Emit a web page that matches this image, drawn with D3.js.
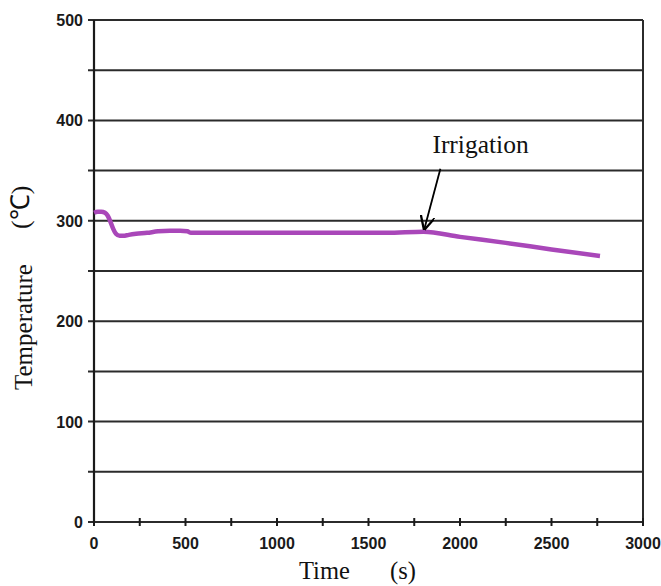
<!DOCTYPE html>
<html>
<head>
<meta charset="utf-8">
<script src="https://cdn.jsdelivr.net/npm/d3@7/dist/d3.min.js"></script>
<style>
  html, body { margin: 0; padding: 0; background: #fff; }
  svg { display: block; }
</style>
</head>
<body>
<script>
// Temperature record over time (s, °C)
const timeSec = [0, 20, 40, 60, 75, 90, 105, 120, 140, 160, 190, 230, 290, 350, 415, 470, 510, 530, 600, 800, 1000, 1200, 1400, 1600, 1800, 2000, 2250, 2500, 2765];
const tempC   = [308, 309, 309, 308, 305, 299, 292, 287, 285, 285, 286, 287, 288, 289.5, 290, 290, 289.5, 288, 288, 288, 288, 288, 288, 288, 289, 284, 278, 271.5, 265];

const xTicks = [0, 500, 1000, 1500, 2000, 2500, 3000];
const xMinorTicks = d3.range(0, 3001, 250);
const yTicks = [0, 100, 200, 300, 400, 500];
const yGrid = d3.range(0, 501, 50);

const annotationText = "Irrigation";
const annotationTime = 1800;
const annotationTemp = 289;

const W = 661, H = 586;
const margin = { left: 94, right: 18, top: 20, bottom: 64 };

const svg = d3.select("body").append("svg").attr("width", W).attr("height", H);

const x = d3.scaleLinear().domain([0, 3000]).range([margin.left, W - margin.right]);
const y = d3.scaleLinear().domain([0, 500]).range([H - margin.bottom, margin.top]);

const serif = "Liberation Serif, Times New Roman, serif";
const sans = "Liberation Sans, Arial, sans-serif";

// Horizontal gridlines every 50, with a short tick left of the axis
svg.append("g")
  .selectAll("line")
  .data(yGrid)
  .join("line")
  .attr("x1", x(0) - 6)
  .attr("x2", x(3000))
  .attr("y1", d => y(d))
  .attr("y2", d => y(d))
  .attr("stroke", "#2b2b2b")
  .attr("stroke-width", 2);

// Left and right frame lines
svg.append("line")
  .attr("x1", x(0)).attr("x2", x(0))
  .attr("y1", y(500)).attr("y2", y(0))
  .attr("stroke", "#1a1a1a").attr("stroke-width", 2.2);
svg.append("line")
  .attr("x1", x(3000)).attr("x2", x(3000))
  .attr("y1", y(500)).attr("y2", y(0))
  .attr("stroke", "#2b2b2b").attr("stroke-width", 2);

// X axis with minor ticks crossing the axis line
const xAxisG = svg.append("g");
xAxisG.selectAll("line.tick")
  .data(xMinorTicks)
  .join("line")
  .attr("class", "tick")
  .attr("x1", d => x(d)).attr("x2", d => x(d))
  .attr("y1", y(0) - 4).attr("y2", y(0) + 4)
  .attr("stroke", "#1a1a1a").attr("stroke-width", 2);

xAxisG.selectAll("text")
  .data(xTicks)
  .join("text")
  .attr("x", d => x(d))
  .attr("y", y(0) + 27)
  .attr("text-anchor", "middle")
  .attr("font-family", sans)
  .attr("font-weight", "bold")
  .attr("font-size", 16)
  .attr("fill", "#1a1a1a")
  .text(d => d);

// Y tick labels
svg.append("g")
  .selectAll("text")
  .data(yTicks)
  .join("text")
  .attr("x", x(0) - 11)
  .attr("y", d => y(d) + 6)
  .attr("text-anchor", "end")
  .attr("font-family", sans)
  .attr("font-weight", "bold")
  .attr("font-size", 16)
  .attr("fill", "#1a1a1a")
  .text(d => d);

// Temperature curve
const line = d3.line()
  .x((d, i) => x(timeSec[i]))
  .y((d, i) => y(tempC[i]))
  .curve(d3.curveMonotoneX);

svg.append("path")
  .datum(tempC)
  .attr("d", line)
  .attr("fill", "none")
  .attr("stroke", "#a947b9")
  .attr("stroke-width", 4.5)
  .attr("stroke-linejoin", "round");

// Annotation arrow
const defs = svg.append("defs");
defs.append("marker")
  .attr("id", "arrowhead")
  .attr("viewBox", "0 0 10 10")
  .attr("refX", 9).attr("refY", 5)
  .attr("markerWidth", 8).attr("markerHeight", 8)
  .attr("orient", "auto")
  .append("path")
  .attr("d", "M0,0 L10,5 L0,10")
  .attr("fill", "none")
  .attr("stroke", "#000")
  .attr("stroke-width", 1.6);

svg.append("line")
  .attr("x1", x(annotationTime) + 17)
  .attr("y1", y(annotationTemp) - 63)
  .attr("x2", x(annotationTime) + 1)
  .attr("y2", y(annotationTemp) - 3)
  .attr("stroke", "#000")
  .attr("stroke-width", 1.8)
  .attr("marker-end", "url(#arrowhead)");

svg.append("text")
  .attr("x", x(annotationTime) + 9)
  .attr("y", y(annotationTemp) - 79)
  .attr("font-family", serif)
  .attr("font-size", 25.5)
  .attr("fill", "#111")
  .text(annotationText);

// Axis titles
svg.append("text")
  .attr("x", 299)
  .attr("y", 579)
  .attr("font-family", serif)
  .attr("font-size", 24.5)
  .attr("fill", "#111")
  .text("Time");
svg.append("text")
  .attr("x", 390)
  .attr("y", 579)
  .attr("font-family", serif)
  .attr("font-size", 24.5)
  .attr("fill", "#111")
  .text("(s)");

svg.append("text")
  .attr("transform", "translate(32,390) rotate(-90)")
  .attr("font-family", serif)
  .attr("font-size", 25)
  .attr("fill", "#111")
  .text("Temperature");
svg.append("text")
  .attr("transform", "translate(29,229) rotate(-90)")
  .attr("font-family", serif)
  .attr("font-size", 26)
  .attr("fill", "#111")
  .text("(℃)");
</script>
</body>
</html>
